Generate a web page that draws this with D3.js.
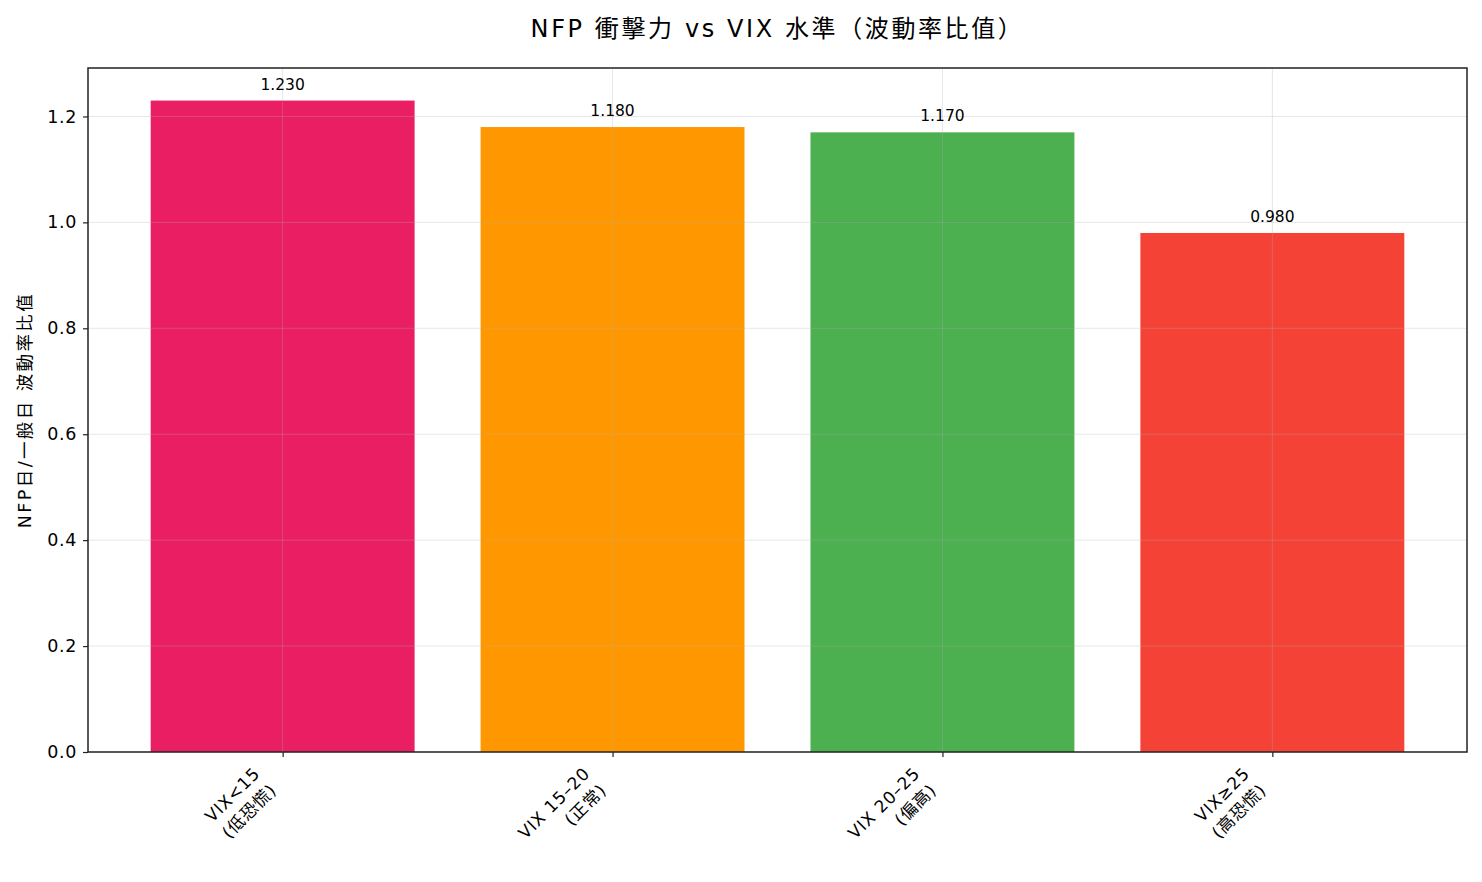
<!DOCTYPE html>
<html>
<head>
<meta charset="utf-8">
<script src="https://cdn.jsdelivr.net/npm/d3@7"></script>
<style>
  body { margin: 0; background: #fff; }
  text { font-family: "DejaVu Sans", "Noto Sans CJK TC", sans-serif; fill: #000; }
</style>
</head>
<body>
<div id="container"></div>
<script>
/* DATA */
const categories = ["VIX<15\n(低恐慌)", "VIX 15–20\n(正常)", "VIX 20–25\n(偏高)", "VIX≥25\n(高恐慌)"];
const ratios = [1.23, 1.18, 1.17, 0.98];
const barColors = ["#E91E63", "#FF9800", "#4CAF50", "#F44336"];
const yTicks = [0.0, 0.2, 0.4, 0.6, 0.8, 1.0, 1.2];

/* CONSTANTS */
const width = 1482, height = 882;
const margin = { top: 68, bottom: 130, left: 88, right: 15 };
const fontStack = "\"DejaVu Sans\", \"Noto Sans CJK TC\", sans-serif";

const svg = d3.select("#container")
  .append("svg")
  .attr("width", width)
  .attr("height", height);

// SCALES (matplotlib-like: bar width 0.8, 5% margins)
const n = categories.length;
const xScale = d3.scaleLinear()
  .domain([-0.4 - 0.05 * (n - 0.2), n - 1 + 0.4 + 0.05 * (n - 0.2)])
  .range([margin.left, width - margin.right]);

const yScale = d3.scaleLinear()
  .domain([0, d3.max(ratios) * 1.05])
  .range([height - margin.bottom, margin.top]);

const x0 = margin.left, x1 = width - margin.right;
const yBottom = height - margin.bottom, yTop = margin.top;

// BARS
svg.append("g")
  .selectAll("rect")
  .data(ratios)
  .join("rect")
  .attr("x", (d, i) => xScale(i - 0.4))
  .attr("width", (d, i) => xScale(i + 0.4) - xScale(i - 0.4))
  .attr("y", d => yScale(d))
  .attr("height", d => yScale(0) - yScale(d))
  .attr("fill", (d, i) => barColors[i]);

// GRID (drawn above bars, like the reference)
const grid = svg.append("g")
  .attr("stroke", "#b0b0b0")
  .attr("stroke-opacity", 0.3)
  .attr("stroke-width", 1);
grid.selectAll(".hg")
  .data(yTicks)
  .join("line")
  .attr("x1", x0).attr("x2", x1)
  .attr("y1", d => yScale(d)).attr("y2", d => yScale(d));
grid.selectAll(".vg")
  .data(d3.range(n))
  .join("line")
  .attr("x1", d => xScale(d)).attr("x2", d => xScale(d))
  .attr("y1", yTop).attr("y2", yBottom);

// VALUE LABELS
svg.append("g")
  .selectAll("text")
  .data(ratios)
  .join("text")
  .attr("x", (d, i) => xScale(i))
  .attr("y", d => yScale(d) - 11)
  .attr("text-anchor", "middle")
  .style("font-size", "15.5px")
  .text(d => d.toFixed(3));

// AXES
const yAxis = d3.axisLeft(yScale)
  .tickValues(yTicks)
  .tickFormat(d3.format(".1f"))
  .tickSize(5)
  .tickPadding(6);

const yAxisGroup = svg.append("g")
  .attr("transform", `translate(${x0}, 0)`)
  .call(yAxis);
yAxisGroup.select(".domain").remove();
yAxisGroup.selectAll("line").attr("stroke", "#222").attr("stroke-width", 1.2);
yAxisGroup.selectAll("text")
  .style("font-size", "17.5px")
  .style("letter-spacing", "0.6px")
  .style("font-family", fontStack);

const xAxis = d3.axisBottom(xScale)
  .tickValues(d3.range(n))
  .tickSize(5)
  .tickFormat("");

const xAxisGroup = svg.append("g")
  .attr("transform", `translate(0, ${yBottom})`)
  .call(xAxis);
xAxisGroup.select(".domain").remove();
xAxisGroup.selectAll("line").attr("stroke", "#222").attr("stroke-width", 1.2);

// ROTATED TICK LABELS (right aligned, 45 degrees)
const fs = 17, lh = fs * 1.38;
const blockH = lh * 2;
const off = Math.SQRT1_2 * blockH;
categories.forEach((c, i) => {
  const g = svg.append("g")
    .attr("transform", `translate(${xScale(i) - off + 1}, ${yBottom + 12}) rotate(-45)`);
  c.split("\n").forEach((line, j) => {
    g.append("text")
      .attr("x", 0)
      .attr("y", fs * 0.88 + j * lh)
      .attr("text-anchor", "end")
      .style("font-size", fs + "px")
      .style("letter-spacing", "0.8px")
      .text(line);
  });
});

// FRAME
svg.append("rect")
  .attr("x", x0).attr("y", yTop)
  .attr("width", x1 - x0).attr("height", yBottom - yTop)
  .attr("fill", "none")
  .attr("stroke", "#222")
  .attr("stroke-width", 1.5);

// Y-AXIS TITLE
svg.append("text")
  .attr("transform", `translate(31, ${(yTop + yBottom) / 2}) rotate(-90)`)
  .attr("text-anchor", "middle")
  .style("font-size", "17.5px")
  .style("letter-spacing", "2.4px")
  .text("NFP日/一般日 波動率比值");

// MAIN TITLE
svg.append("text")
  .attr("x", (x0 + x1) / 2)
  .attr("y", 37)
  .attr("text-anchor", "middle")
  .style("font-size", "24px")
  .style("letter-spacing", "2.6px")
  .text("NFP 衝擊力 vs VIX 水準（波動率比值）");
</script>
</body>
</html>
